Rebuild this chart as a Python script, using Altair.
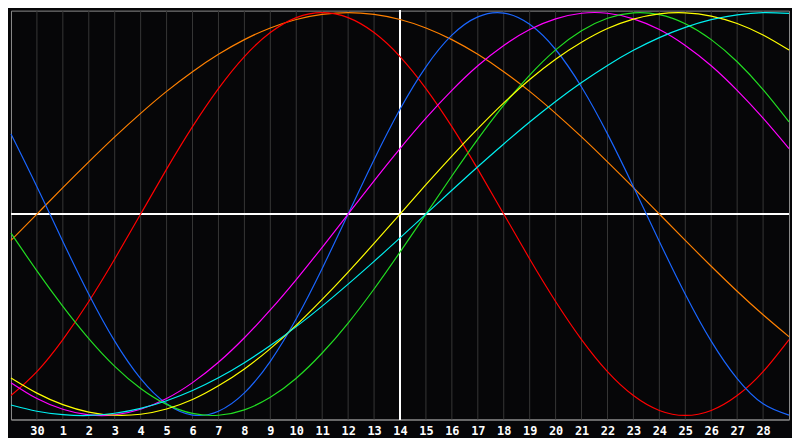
import altair as alt
import pandas as pd

# x position in day units (0..30); gridlines/labels at 1..29
days = list(range(31))
tick_pos = list(range(1, 30))
tick_labels = ["30"] + [str(i) for i in range(1, 29)]
center_day = 15

# curve values (-1 .. 1) at each day position
physical = [0.398, 0.136, -0.136, -0.398, -0.631, -0.817, -0.942, -0.998, -0.979, -0.888,
            -0.731, -0.520, -0.270, 0.0, 0.270, 0.520, 0.731, 0.888, 0.979, 0.998,
            0.942, 0.817, 0.631, 0.398, 0.136, -0.136, -0.398, -0.631, -0.817, -0.942, -0.998]
emotional = [-0.901, -0.782, -0.623, -0.434, -0.223, 0.0, 0.223, 0.434, 0.623, 0.782,
             0.901, 0.975, 1.0, 0.975, 0.901, 0.782, 0.623, 0.434, 0.223, 0.0,
             -0.223, -0.434, -0.623, -0.782, -0.901, -0.975, -1.0, -0.975, -0.901, -0.782, -0.623]
intellectual = [-0.095, -0.282, -0.458, -0.618, -0.756, -0.866, -0.945, -0.990, -0.999, -0.972,
                -0.910, -0.815, -0.690, -0.541, -0.372, -0.189, 0.0, 0.189, 0.372, 0.541,
                0.690, 0.815, 0.910, 0.972, 0.999, 0.990, 0.945, 0.866, 0.756, 0.618, 0.458]
intuitive = [-0.837, -0.916, -0.969, -0.997, -0.997, -0.969, -0.916, -0.837, -0.736, -0.614,
             -0.476, -0.325, -0.165, 0.0, 0.165, 0.325, 0.476, 0.614, 0.736, 0.837,
             0.916, 0.969, 0.997, 0.997, 0.969, 0.916, 0.837, 0.736, 0.614, 0.476, 0.325]
aesthetic = [-0.814, -0.889, -0.946, -0.983, -0.999, -0.994, -0.968, -0.921, -0.853, -0.769,
             -0.668, -0.552, -0.424, -0.288, -0.146, 0.0, 0.146, 0.288, 0.424, 0.552,
             0.668, 0.769, 0.853, 0.921, 0.968, 0.994, 0.999, 0.983, 0.946, 0.889, 0.814]
awareness = [-0.131, 0.0, 0.131, 0.259, 0.383, 0.5, 0.609, 0.707, 0.793, 0.866,
             0.924, 0.966, 0.991, 1.0, 0.991, 0.966, 0.924, 0.866, 0.793, 0.707,
             0.609, 0.5, 0.383, 0.259, 0.131, 0.0, -0.131, -0.259, -0.383, -0.5, -0.609]
spiritual = [-0.948, -0.979, -0.996, -1.0, -0.989, -0.965, -0.927, -0.876, -0.813, -0.738,
             -0.653, -0.559, -0.457, -0.348, -0.235, -0.118, 0.0, 0.118, 0.235, 0.348,
             0.457, 0.559, 0.653, 0.738, 0.813, 0.876, 0.927, 0.965, 0.989, 1.0, 0.996]

series_names = ["Awareness", "Emotional", "Physical", "Intuitive", "Intellectual", "Aesthetic", "Spiritual"]
series_values = [awareness, emotional, physical, intuitive, intellectual, aesthetic, spiritual]
series_colors = ["#ff8000", "#ff0000", "#1a66ff", "#ff00ff", "#22dd22", "#ffff00", "#00f0f0"]

rows = []
for name, vals in zip(series_names, series_values):
    for d, v in zip(days, vals):
        rows.append({"day": d, "value": v, "series": name})
df = pd.DataFrame(rows)

grid_df = pd.DataFrame({"day": [p for p in tick_pos if p != center_day]})

label_expr = "[" + ",".join("'%s'" % l for l in tick_labels) + "][datum.value - 1]"

x_scale = alt.Scale(domain=[0, 30], nice=False, zero=False)
y_scale = alt.Scale(domain=[-1.02, 1.01], nice=False, zero=False)
x_axis = alt.Axis(
    values=tick_pos,
    labelExpr=label_expr,
    ticks=False,
    grid=False,
    domainColor="#8c8c8c",
    domainWidth=1,
    labelColor="#ffffff",
    labelFont="DejaVu Sans Mono",
    labelFontWeight="bold",
    labelFontSize=12,
    labelPadding=6,
    labelFlush=False,
    labelOverlap=False,
    title=None,
)

grid = alt.Chart(grid_df).mark_rule(color="#363636", strokeWidth=1).encode(
    x=alt.X("day:Q", scale=x_scale, axis=x_axis)
)

hline = alt.Chart(grid_df).mark_rule(color="#ffffff", strokeWidth=1.5).encode(
    y=alt.Y(datum=0, scale=y_scale, axis=None)
)
vline = alt.Chart(grid_df).mark_rule(color="#ffffff", strokeWidth=1.5).encode(
    x=alt.X(datum=center_day, scale=x_scale, axis=x_axis)
)

lines = alt.Chart(df).mark_line(strokeWidth=1.2, interpolate="natural").encode(
    x=alt.X("day:Q", scale=x_scale, axis=x_axis),
    y=alt.Y("value:Q", scale=y_scale, axis=None),
    color=alt.Color("series:N", scale=alt.Scale(domain=series_names, range=series_colors), legend=None),
    detail="series:N",
)

chart = alt.layer(grid, hline, vline, lines).properties(
    width=784,
    height=412,
    padding=0,
    background="#060608",
).configure_view(
    stroke="#8c8c8c",
    strokeWidth=1,
    fill="#060608",
)

chart.save("out.html", embed_options={"renderer": "svg", "actions": False})
